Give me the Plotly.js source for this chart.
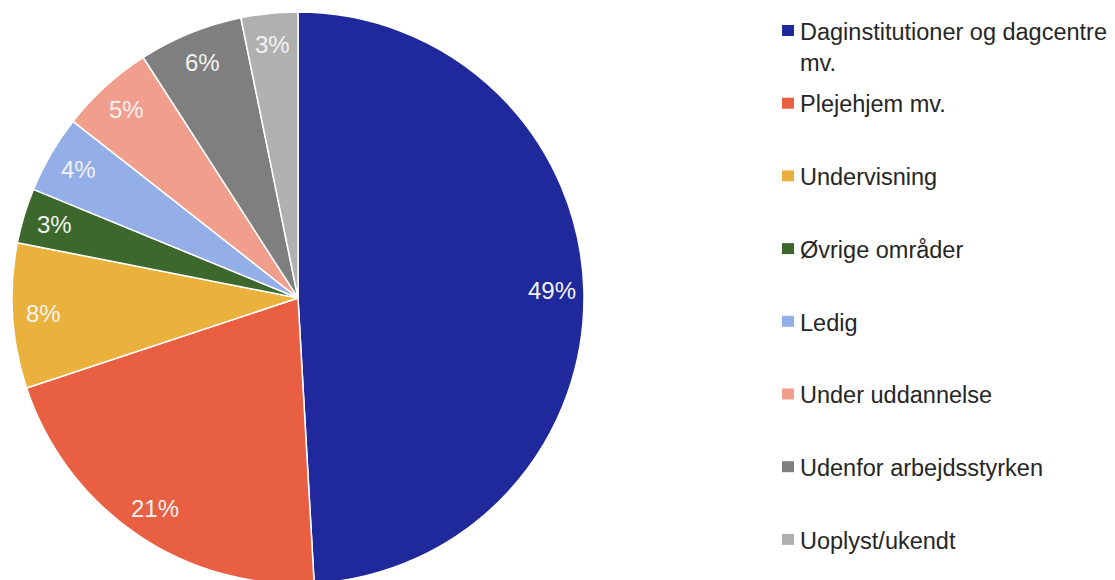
<!DOCTYPE html>
<html><head><meta charset="utf-8">
<script src="https://cdn.plot.ly/plotly-3.0.1.min.js"></script>
<style>html,body{margin:0;padding:0;overflow:hidden;background:#fff}#chart{width:1115px;height:600px}</style>
</head><body><div id="chart"></div>
<script>
// ---- data ----
const categories = ["Daginstitutioner og dagcentre mv.", "Plejehjem mv.", "Undervisning", "Øvrige områder", "Ledig", "Under uddannelse", "Udenfor arbejdsstyrken", "Uoplyst/ukendt"];
const legendLabels = ["Daginstitutioner og dagcentre<br>mv.", "Plejehjem mv.", "Undervisning", "Øvrige områder", "Ledig", "Under uddannelse", "Udenfor arbejdsstyrken", "Uoplyst/ukendt"];
const shares = [49.1, 20.8, 8.2, 3.1, 4.4, 5.3, 5.9, 3.2];
const colors = ["#1F299C", "#E95F42", "#EAB23C", "#3C682D", "#94AEE8", "#F19E8D", "#7F7F7F", "#B0B0B0"];

// ---- layout constants ----
const W = 1115, H = 600;
const CX = 298, CY = 298, R = 286;
const labelFrac = 0.89;
const legendX = 798, swatchX0 = 782, swatchX1 = 794;
const legendTop = 30.5, legendStep = 72.7;
const FS_LABEL = 24, FS_LEGEND = 23.5;

const total = shares.reduce((a, b) => a + b, 0);
const pctText = shares.map(v => Math.round(v / total * 100) + '%');

const trace = {
  type: 'pie',
  labels: categories,
  values: shares,
  sort: false,
  direction: 'clockwise',
  rotation: 0,
  textinfo: 'none',
  hoverinfo: 'label+percent',
  marker: {colors: colors, line: {color: '#FFFFFF', width: 1.5}},
  domain: {x: [(CX - R) / W, (CX + R) / W], y: [1 - (CY + R) / H, 1 - (CY - R) / H]},
  showlegend: false
};

const annotations = [];
const shapes = [];
let cum = 0;
shares.forEach((v, i) => {
  const mid = (cum + v / 2) / total * 2 * Math.PI;
  cum += v;
  const px = CX + labelFrac * R * Math.sin(mid);
  const py = CY - labelFrac * R * Math.cos(mid);
  annotations.push({
    xref: 'paper', yref: 'paper', x: px / W, y: 1 - py / H,
    xanchor: 'center', yanchor: 'middle', showarrow: false,
    text: pctText[i],
    font: {family: 'Liberation Sans, Arial, sans-serif', size: FS_LABEL, color: '#F2F2F2'}
  });
  const cy = legendTop + legendStep * i;
  shapes.push({
    type: 'rect', xref: 'paper', yref: 'paper',
    x0: swatchX0 / W, x1: swatchX1 / W,
    y0: 1 - (cy - 5.5) / H, y1: 1 - (cy + 5.5) / H,
    fillcolor: colors[i], line: {width: 0}
  });
  annotations.push({
    xref: 'paper', yref: 'paper', x: legendX / W, y: 1 - (cy - 0.65 * FS_LEGEND + 1.5) / H,
    xanchor: 'left', yanchor: 'top', align: 'left', showarrow: false,
    text: legendLabels[i],
    font: {family: 'Liberation Sans, Arial, sans-serif', size: FS_LEGEND, color: '#262626'}
  });
});

const layout = {
  width: W, height: H,
  margin: {l: 0, r: 0, t: 0, b: 0},
  paper_bgcolor: '#FFFFFF',
  showlegend: false,
  annotations: annotations,
  shapes: shapes
};

Plotly.newPlot('chart', [trace], layout, {displayModeBar: false, staticPlot: true});
</script>
</body></html>
